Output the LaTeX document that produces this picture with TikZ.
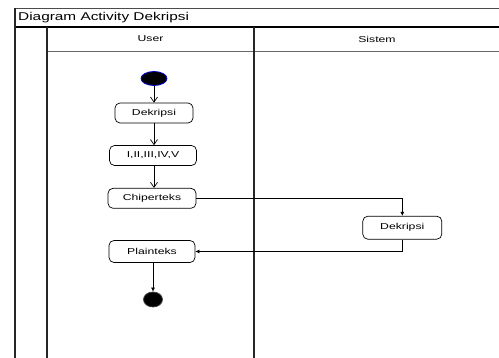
\documentclass[tikz,border=0pt]{standalone}
\usepackage{fontspec}
\setmainfont{Liberation Sans}
\newfontfamily\lblfont[FakeStretch=1.42]{Liberation Sans}
\newfontfamily\ttlfont[FakeStretch=1.36]{Liberation Sans}
\usetikzlibrary{arrows.meta,shapes.geometric}
\begin{document}
\begin{tikzpicture}[x=1pt,y=-1pt,
  lane/.style={line width=1.1pt,draw=black!85},
  rule/.style={line width=0.8pt,draw=black!70},
  act/.style={draw,line width=0.7pt,rounded corners=5pt,minimum height=20pt,
    inner sep=0pt,font=\lblfont\fontsize{8.6}{10}\selectfont},
  hdr/.style={font=\lblfont\fontsize{8.6}{10}\selectfont},
  flow/.style={line width=0.7pt,-{Straight Barb[length=5pt,width=7pt,line width=0.7pt]}},
  xflow/.style={line width=0.6pt,-{Latex[length=4pt,width=4pt]}}]
\useasboundingbox (0,0) rectangle (499,358);
\fill[white] (0,0) rectangle (499,358);

% swimlane frame
\draw[rule] (15,8) -- (499,8);
\draw[line width=1.4pt] (15,27) -- (499,27);
\draw[rule,draw=black!60] (47,51) -- (499,51);
\draw[lane] (15,8) -- (15,358);
\draw[lane] (47,27) -- (47,358);
\draw[lane] (254,27) -- (254,358);

% titles
\node[anchor=west,inner sep=0pt,font=\ttlfont\fontsize{11.3}{13}\selectfont] (title) at (18,17.5) {Diagram Activity Dekripsi};
\node[hdr] (user) at (150.5,39) {User};
\node[hdr] (sistem) at (377,39) {Sistem};

% activities
\node[ellipse,draw=blue!80!black,fill=black,line width=0.8pt,minimum width=26pt,minimum height=14pt,inner sep=0pt] (start) at (154,78.5) {};
\node[act,minimum width=78pt] (dek1) at (154,113) {Dekripsi};
\node[act,minimum width=87pt] (roman) at (153,155.5) {I,II,III,IV,V};
\node[act,minimum width=88pt] (chiper) at (152,198.3) {Chiperteks};
\node[act,minimum width=86pt,minimum height=22pt] (plain) at (152,251.5) {Plainteks};
\node[act,minimum width=79pt,minimum height=23pt] (dek2) at (402.3,227.7) {Dekripsi};
\node[ellipse,draw=black!75,fill=black,line width=0.8pt,minimum width=19pt,minimum height=15pt,inner sep=0pt] (stop) at (153,299.5) {};

% control flow
\draw[flow] (start) -- (dek1.north -| start);
\draw[flow] (dek1.south -| start) -- (roman.north -| start);
\draw[flow] (roman.south -| start) -- (chiper.north -| start);
\draw[xflow] (chiper.east) -| (dek2.north);
\draw[xflow] (dek2.south) |- (plain.east);
\draw[xflow] (plain.south -| stop) -- (stop.north);
\end{tikzpicture}
\end{document}
